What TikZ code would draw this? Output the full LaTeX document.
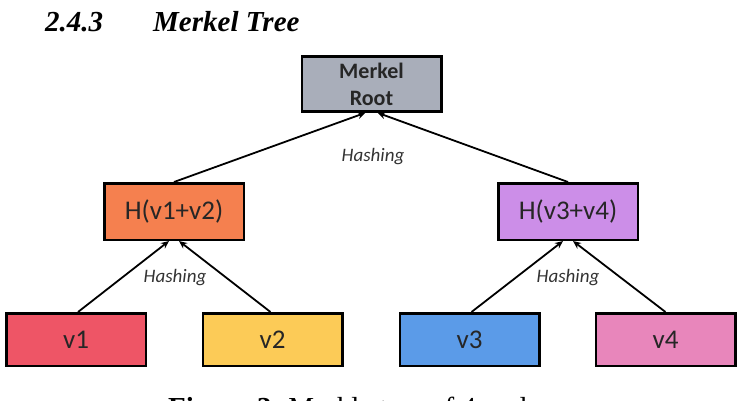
\documentclass[tikz,border=0pt]{standalone}
\usepackage{fontspec}
\setmainfont{Liberation Serif}
\newfontfamily\calibri{Carlito}
\usetikzlibrary{arrows.meta,positioning}
\definecolor{rootgray}{HTML}{A9AEBA}
\definecolor{hashorange}{HTML}{F5804F}
\definecolor{hashpurple}{HTML}{CC8EE8}
\definecolor{leafred}{HTML}{EE5566}
\definecolor{leafyellow}{HTML}{FCCB57}
\definecolor{leafblue}{HTML}{5B9BE8}
\definecolor{leafpink}{HTML}{E886BB}
\definecolor{hashtext}{HTML}{333333}
\tikzset{
  treebox/.style={draw=black,line width=2.5pt,minimum width=139.5pt,inner sep=0pt,
    font=\calibri\fontsize{27}{29}\selectfont,text=black!85},
  hashlink/.style={line width=1.8pt,-{Stealth[length=8pt,width=7pt]}},
  hashlabel/.style={font=\calibri\itshape\fontsize{19}{21}\selectfont,text=hashtext}
}

\begin{document}
\begin{tikzpicture}[x=1pt,y=-1pt]
  \clip (0,0) rectangle (744,400);
  \fill[white] (0,0) rectangle (744,400);

  % Heading
  \node[anchor=base west,inner sep=0pt,font=\fontsize{29}{32}\selectfont\bfseries\itshape] (title) at (45,31) {2.4.3\hspace{50pt}Merkel Tree};

  % Root
  \node[treebox,fill=rootgray,minimum height=55pt,align=center,
    font=\calibri\bfseries\fontsize{22}{27}\selectfont] (root) at (371.5,84) {Merkel\\Root};

  % Hashes
  \node[treebox,fill=hashorange,minimum height=56.5pt] (h12) at (174,211.5) {H(v1+v2)};
  \node[treebox,fill=hashpurple,minimum height=56.5pt] (h34) at (568,211.5) {H(v3+v4)};

  % Leaves
  \node[treebox,fill=leafred,minimum height=52.5pt] (v1) at (76,339.5) {v1};
  \node[treebox,fill=leafyellow,minimum height=52.5pt] (v2) at (272.5,339.5) {v2};
  \node[treebox,fill=leafblue,minimum height=52.5pt] (v3) at (469.5,339.5) {v3};
  \node[treebox,fill=leafpink,minimum height=52.5pt] (v4) at (665.5,339.5) {v4};

  % Links
  \draw[hashlink] (h12.north) -- ([xshift=-6pt]root.south);
  \draw[hashlink] (h34.north) -- ([xshift=6pt]root.south);
  \draw[hashlink] ([xshift=2pt]v1.north) -- ([xshift=-5pt]h12.south);
  \draw[hashlink] ([xshift=-2pt]v2.north) -- ([xshift=5pt]h12.south);
  \draw[hashlink] ([xshift=2pt]v3.north) -- ([xshift=-5pt]h34.south);
  \draw[hashlink] (v4.north) -- ([xshift=5pt]h34.south);

  \node[hashlabel] (lblroot) at (373,157) {Hashing};
  \node[hashlabel] (lbl12) at (175,278) {Hashing};
  \node[hashlabel] (lbl34) at (568,278) {Hashing};

  % Caption (cut off by the page edge)
  \node[anchor=base west,inner sep=0pt,font=\fontsize{29}{32}\selectfont] (caption) at (168,417) {\textbf{Figure 3.} Merkle tree of 4 nodes};
\end{tikzpicture}
\end{document}
